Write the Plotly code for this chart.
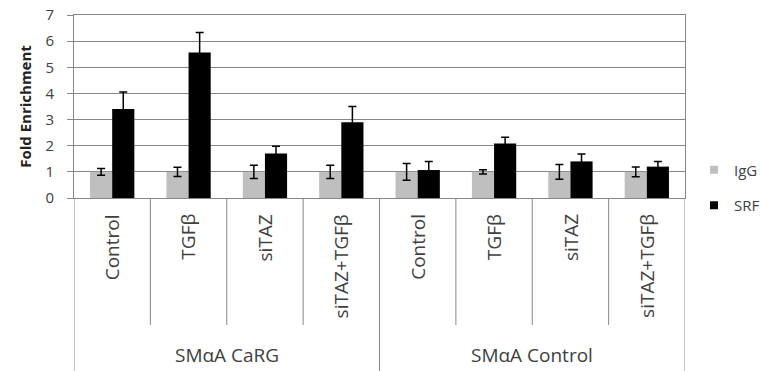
import plotly.graph_objects as go

categories = ["Control", "TGFβ", "siTAZ", "siTAZ+TGFβ",
              "Control", "TGFβ", "siTAZ", "siTAZ+TGFβ"]
groups = ["SMαA CaRG", "SMαA Control"]
igg = [1, 1, 1, 1, 1, 1, 1, 1]
igg_err = [0.13, 0.18, 0.25, 0.25, 0.32, 0.08, 0.28, 0.19]
srf = [3.4, 5.57, 1.7, 2.9, 1.07, 2.08, 1.4, 1.2]
srf_err = [0.65, 0.76, 0.28, 0.6, 0.33, 0.24, 0.28, 0.2]
y_ticks = [0, 1, 2, 3, 4, 5, 6, 7]

FONT = "Open Sans"
GRID = "#878787"
TXT = "#404040"
x = list(range(len(categories)))

fig = go.Figure()
fig.add_trace(go.Bar(
    x=x, y=igg, name="IgG", marker=dict(color="#bfbfbf", line=dict(width=0)),
    error_y=dict(type="data", array=igg_err, color="black", thickness=1.5, width=4),
    showlegend=False))
fig.add_trace(go.Bar(
    x=x, y=srf, name="SRF", marker=dict(color="black", line=dict(width=0)),
    error_y=dict(type="data", array=srf_err, color="black", thickness=1.5, width=4),
    showlegend=False))
# legend entries
fig.add_trace(go.Scatter(x=[None], y=[None], mode="markers", name="IgG",
                         legendgroup="a",
                         marker=dict(symbol="square", size=8, color="#bfbfbf")))
fig.add_trace(go.Scatter(x=[None], y=[None], mode="markers", name="SRF",
                         legendgroup="b",
                         marker=dict(symbol="square", size=8, color="black")))

shapes = []
annotations = []
n = len(categories)
# category dividers
for i in range(n + 1):
    xb = i - 0.5
    if i % 4 == 0:
        y0 = -0.95
    else:
        y0 = -0.694
    shapes.append(dict(type="line", xref="x", yref="paper", x0=xb, x1=xb,
                       y0=0, y1=y0, line=dict(color=GRID, width=1)))
for i, c in enumerate(categories):
    annotations.append(dict(x=i, y=-0.077, xref="x", yref="paper", text=c,
                            textangle=-90, showarrow=False, yanchor="top",
                            xanchor="center",
                            font=dict(family=FONT, size=19, color=TXT)))
for g, gname in enumerate(groups):
    annotations.append(dict(x=g * 4 + 1.5, y=-0.86, xref="x", yref="paper",
                            text=gname, showarrow=False, yanchor="middle",
                            font=dict(family=FONT, size=19, color=TXT)))

fig.update_layout(
    width=760, height=371,
    margin=dict(l=74, r=75, t=15, b=173, autoexpand=False),
    paper_bgcolor="white", plot_bgcolor="white",
    barmode="group", bargap=0.42, bargroupgap=0,
    font=dict(family=FONT, color=TXT),
    shapes=shapes, annotations=annotations,
    legend=dict(x=1.0147, y=0.243, xanchor="left", yanchor="top",
                font=dict(family=FONT, size=15, color=TXT),
                tracegroupgap=13, itemwidth=30, traceorder="grouped",
                bgcolor="rgba(0,0,0,0)"),
    xaxis=dict(range=[-0.5, n - 0.5], showticklabels=False, ticks="",
               showgrid=False, zeroline=False, showline=True, mirror=True,
               linecolor=GRID, linewidth=1, automargin=False),
    yaxis=dict(range=[0, 7], tickvals=y_ticks, showgrid=True, gridcolor=GRID,
               gridwidth=1, zeroline=False, showline=True, mirror=True,
               linecolor=GRID, linewidth=1, ticks="outside", ticklen=6,
               tickcolor=GRID, ticklabelstandoff=10, automargin=False,
               tickfont=dict(family=FONT, size=15, color=TXT),
               title=dict(text="<b>Fold Enrichment</b>", standoff=10,
                          font=dict(family=FONT, size=15, color="#222"))),
)

fig.write_html("out.html", config={"displayModeBar": False},
               post_script="document.body.style.margin='0';"
                           "document.body.style.overflow='hidden';")
